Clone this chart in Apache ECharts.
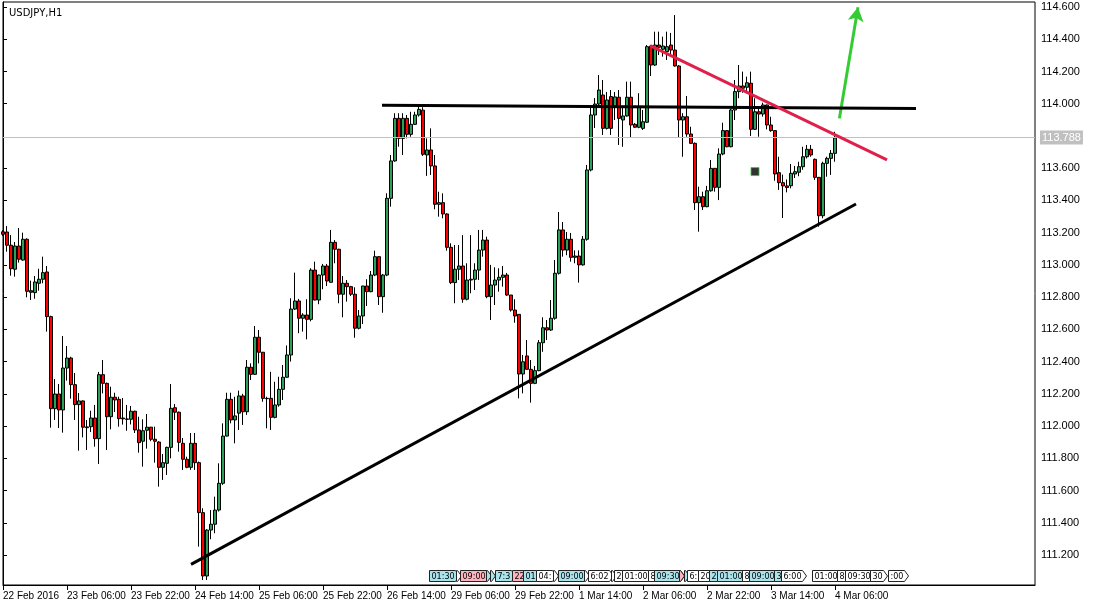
<!DOCTYPE html>
<html><head><meta charset="utf-8">
<script src="https://cdn.jsdelivr.net/npm/echarts@6/dist/echarts.min.js"></script>
<style>html,body{margin:0;padding:0;background:#fff}#c{width:1093px;height:608px}</style>
</head><body><div id="c"></div>
<script>
// ---------- DATA (USDJPY H1, 22 Feb 14:00 .. 4 Mar 06:00) ----------
const opens = [113.205,113.204,113.122,112.973,113.117,113.030,113.159,112.840,112.828,112.886,
112.911,112.956,112.679,112.108,112.199,112.100,112.360,112.422,112.257,112.133,
112.156,111.995,111.996,112.050,111.922,112.319,112.265,112.058,112.179,112.166,
112.050,112.044,112.042,112.092,111.976,111.906,111.974,111.993,111.918,111.901,
111.744,111.769,111.868,112.114,112.086,111.893,111.794,111.744,111.893,111.773,
111.463,111.070,111.355,111.391,111.479,111.645,111.938,112.166,112.038,112.080,
112.187,112.089,112.365,112.321,112.551,112.458,112.172,112.172,112.054,112.131,
112.228,112.303,112.441,112.726,112.776,112.669,112.689,112.662,112.968,112.782,
112.937,112.993,112.892,113.140,113.097,112.818,112.886,112.865,112.818,112.607,
112.683,112.869,112.834,112.937,113.051,112.803,112.937,113.413,113.645,113.909,
113.785,113.909,113.810,113.872,113.930,113.960,113.682,113.713,113.614,113.376,
113.386,113.316,113.109,112.890,112.973,112.993,112.787,112.906,112.911,112.968,
113.092,113.154,112.803,112.875,112.906,112.923,112.937,112.813,112.720,112.693,
112.323,112.435,112.352,112.265,112.344,112.517,112.610,112.596,112.669,112.948,
113.217,113.092,113.159,113.047,113.055,113.000,113.159,113.589,113.930,113.998,
114.054,113.847,114.044,113.980,114.040,113.899,113.924,114.040,113.872,113.854,
113.847,113.885,114.358,114.240,114.364,114.338,114.323,114.364,114.333,114.234,
113.899,113.919,113.812,113.754,113.386,113.423,113.361,113.460,113.599,113.481,
113.688,113.833,113.733,113.961,114.075,114.110,114.102,114.127,113.841,113.950,
113.936,113.992,113.868,113.833,113.572,113.510,113.490,113.491,113.564,113.575,
113.609,113.671,113.717,113.655,113.543,113.305,113.630,113.661,113.692];
const highs = [113.215,113.241,113.185,113.142,113.229,113.200,113.165,112.902,112.931,112.976,
113.051,112.993,112.685,112.292,112.261,112.559,112.497,112.430,112.329,112.205,
112.160,112.038,112.095,112.131,112.336,112.410,112.270,112.244,112.207,112.182,
112.174,112.131,112.125,112.095,112.058,112.042,112.075,111.995,111.996,111.906,
111.827,111.872,112.261,112.137,112.090,111.926,111.810,111.957,111.957,111.780,
111.490,111.360,111.479,111.562,111.769,112.017,112.207,112.207,112.182,112.220,
112.200,112.410,112.389,112.621,112.596,112.460,112.182,112.337,112.275,112.306,
112.379,112.500,112.793,112.952,112.789,112.700,112.787,112.979,113.020,112.940,
113.006,113.006,113.217,113.154,113.100,112.931,112.906,112.870,112.861,112.720,
112.870,112.911,112.962,113.088,113.055,112.944,113.444,113.682,113.941,113.941,
113.941,113.930,113.950,113.950,113.981,113.978,113.785,113.847,113.682,113.454,
113.444,113.320,113.134,113.123,113.123,113.185,113.010,113.185,113.010,113.217,
113.217,113.175,113.000,112.985,112.979,112.993,112.950,112.813,112.787,112.693,
112.441,112.534,112.410,112.373,112.534,112.675,112.658,112.782,113.030,113.328,
113.266,113.204,113.198,113.090,113.090,113.179,113.620,113.980,114.035,114.178,
114.147,114.073,114.085,114.073,114.085,113.981,114.137,114.137,113.880,114.065,
113.961,114.364,114.364,114.447,114.447,114.416,114.447,114.439,114.550,114.240,
113.941,114.048,113.857,113.760,113.485,113.454,113.490,113.651,113.600,113.723,
113.882,113.835,113.967,114.147,114.240,114.199,114.168,114.199,114.034,113.981,
114.006,113.995,113.919,113.835,113.671,113.560,113.530,113.626,113.614,113.640,
113.733,113.744,113.744,113.660,113.545,113.640,113.671,113.713,113.826];
const lows = [113.180,113.082,112.933,112.927,113.014,113.026,112.799,112.782,112.790,112.840,
112.886,112.586,111.990,112.038,111.988,111.959,112.282,112.170,112.038,111.847,
111.930,111.852,111.963,111.872,111.765,112.203,111.852,111.980,112.087,111.996,
112.009,111.971,112.010,111.957,111.835,111.748,111.860,111.906,111.773,111.624,
111.666,111.697,111.800,112.038,111.841,111.728,111.738,111.728,111.728,111.252,
111.045,111.045,111.298,111.335,111.470,111.635,111.936,112.017,111.893,111.976,
112.007,112.069,112.286,112.317,112.389,112.151,111.986,111.976,112.048,112.120,
112.162,112.300,112.400,112.720,112.576,112.586,112.538,112.650,112.780,112.756,
112.849,112.869,112.890,113.010,112.762,112.675,112.772,112.807,112.548,112.600,
112.633,112.745,112.830,112.930,112.751,112.703,112.930,113.361,113.640,113.733,
113.682,113.785,113.795,113.868,113.920,113.676,113.552,113.558,113.345,113.299,
113.289,113.088,112.881,112.762,112.906,112.765,112.780,112.824,112.844,112.906,
113.051,112.793,112.658,112.751,112.834,112.865,112.807,112.710,112.641,112.172,
112.203,112.350,112.145,112.260,112.340,112.461,112.534,112.590,112.660,112.940,
113.051,113.060,113.020,113.010,112.890,112.995,113.150,113.580,113.849,113.990,
113.806,113.840,113.806,113.899,113.744,113.733,113.920,113.792,113.850,113.848,
113.837,113.880,114.172,114.234,114.302,114.292,114.271,114.292,114.230,113.792,
113.671,113.795,113.750,113.341,113.206,113.341,113.358,113.454,113.454,113.402,
113.680,113.730,113.730,113.899,114.034,114.068,114.065,113.800,113.837,113.795,
113.920,113.841,113.826,113.522,113.465,113.291,113.450,113.475,113.539,113.550,
113.590,113.660,113.671,113.527,113.237,113.289,113.547,113.558,113.640];
const closes = [113.190,113.122,112.976,113.117,113.035,113.159,112.836,112.830,112.894,112.911,
112.952,112.679,112.108,112.199,112.100,112.360,112.422,112.257,112.133,112.156,
111.993,111.990,112.050,111.922,112.319,112.265,112.058,112.179,112.162,112.046,
112.045,112.042,112.092,111.976,111.897,111.971,111.993,111.918,111.906,111.744,
111.773,111.868,112.110,112.086,111.899,111.794,111.744,111.893,111.773,111.463,
111.070,111.355,111.391,111.479,111.645,111.938,112.166,112.038,112.063,112.187,
112.089,112.365,112.321,112.551,112.458,112.172,112.170,112.054,112.131,112.228,
112.303,112.441,112.726,112.776,112.669,112.689,112.662,112.968,112.782,112.937,
112.993,112.900,113.140,113.097,112.818,112.886,112.865,112.818,112.607,112.683,
112.869,112.834,112.937,113.051,112.803,112.937,113.413,113.645,113.909,113.785,
113.909,113.810,113.872,113.930,113.965,113.686,113.713,113.614,113.376,113.386,
113.316,113.109,112.890,112.973,112.993,112.787,112.906,112.911,112.968,113.092,
113.154,112.803,112.875,112.906,112.923,112.937,112.813,112.720,112.683,112.323,
112.399,112.352,112.265,112.344,112.517,112.610,112.596,112.669,112.948,113.217,
113.092,113.159,113.047,113.055,113.000,113.159,113.589,113.930,113.998,114.085,
113.847,114.023,113.847,114.042,113.909,113.924,114.040,113.868,113.854,113.981,
113.888,114.354,114.240,114.364,114.350,114.358,114.354,114.333,114.234,113.899,
113.919,113.812,113.754,113.386,113.423,113.361,113.460,113.599,113.481,113.688,
113.833,113.733,113.961,114.075,114.110,114.096,114.130,113.841,113.950,113.936,
113.992,113.868,113.833,113.564,113.510,113.490,113.480,113.568,113.578,113.609,
113.671,113.717,113.682,113.543,113.305,113.630,113.661,113.692,113.788];

// x-axis tick labels, one every 16 hourly bars
const tickLabels = ['22 Feb 2016','23 Feb 06:00','23 Feb 22:00','24 Feb 14:00','25 Feb 06:00',
  '25 Feb 22:00','26 Feb 14:00','29 Feb 06:00','29 Feb 22:00','1 Mar 14:00','2 Mar 06:00',
  '2 Mar 22:00','3 Mar 14:00','4 Mar 06:00'];
const yTickValues = [111.2,111.4,111.6,111.8,112.0,112.2,112.4,112.6,112.8,113.0,113.2,113.4,113.6,114.0,114.2,114.4,114.6];
const lastPrice = 113.788;

// drawn objects, in [bar index, price]
const resistLine = [[94.75, 113.990], [228.25, 113.970]];
const supportLine = [[47.0, 111.142], [213.25, 113.378]];
const redLine = [[161.8, 114.360], [221.0, 113.652]];
const greenArrow = [[209.1, 113.909], [213.75, 114.598]];
const marker = [[188.0, 113.579]];

// calendar event flags at the bottom: [bar index, visible text, colour key]
const eventBars = [106.5,113.25,114.25,120.75,121.75,123,127.25,130,133.25,137.5,138.75,145.25,146.25,152,152.75,154.75,161.25,162.75,169,170.25,171,173.75,176.5,178.5,184.75,186.5,192.75,194.5,202.25,208.5,210.5,216.75,221.25];
const eventLabels = ['01:30','','09:00','','','7:3','22','01','04:','','09:00','','6:02','','2','01:00','8','09:30','','','6:','20','2','01:00','8','09:00','3','6:00','01:00','8:','09:30','30',':00'];
const eventColors = ['c','w','p','c','c','c','p','c','w','w','c','w','w','w','w','w','w','c','p','c','w','w','c','c','w','c','c','w','w','w','w','w','w'];

// ---------- CHART ----------
const nSlots = 259;
const categories = Array.from({length: nSlots}, (_, i) => String(i));
const nBars = opens.length;
const candles = opens.map((o, i) => [o, closes[i], lows[i], highs[i]]);
const showIdx = (idx) => idx % 16 === 0 && idx < nBars;

const mctx = document.createElement('canvas').getContext('2d');
mctx.font = '8px "DejaVu Sans"';
const tw = (s) => mctx.measureText(s).width;
const fills = {c: '#A9E4EC', p: '#FFB3BE', w: '#FFFFFF'};

const chart = echarts.init(document.getElementById('c'), null, {renderer: 'canvas'});
chart.setOption({
  animation: false,
  backgroundColor: '#fff',
  title: {text: 'USDJPY,H1', left: 4, top: 3,
    textStyle: {fontSize: 10, fontWeight: 'normal', fontFamily: 'DejaVu Sans', color: '#000'}},
  grid: {left: 2, top: 2, right: 58, bottom: 23, show: true, borderColor: '#000', borderWidth: 1, backgroundColor: '#fff'},
  xAxis: [{
    type: 'category', data: categories, boundaryGap: false,
    axisLine: {lineStyle: {color: '#000', width: 1}},
    axisTick: {show: true, interval: showIdx, length: 5, lineStyle: {color: '#000'}},
    axisLabel: {interval: showIdx, align: 'left', margin: 6, color: '#000', fontSize: 10,
      fontFamily: 'Liberation Sans', formatter: (v, idx) => tickLabels[idx / 16] || ''},
    splitLine: {show: false}
  }, {
    type: 'value', min: 0, max: nSlots - 1, show: false, splitLine: {show: false}
  }],
  yAxis: {
    type: 'value', position: 'right', min: 111.014, max: 114.631, scale: true,
    axisLine: {show: true, lineStyle: {color: '#000', width: 1}},
    axisTick: {show: true, length: 4, customValues: yTickValues, lineStyle: {color: '#000'}},
    axisLabel: {customValues: yTickValues, margin: 6, color: '#000', fontSize: 11,
      fontFamily: 'Liberation Sans', formatter: (v) => v.toFixed(3)},
    splitLine: {show: false}
  },
  series: [{
    type: 'candlestick', xAxisIndex: 0, yAxisIndex: 0, data: candles, barWidth: 3, clip: true,
    itemStyle: {color: '#2E9E5B', color0: '#FF0000', borderColor: '#000', borderColor0: '#000',
      borderColorDoji: '#000', borderWidth: 1},
    markLine: {silent: true, symbol: ['none', 'none'], animation: false,
      lineStyle: {color: '#C0C0C0', width: 1, type: 'solid'},
      label: {show: true, position: 'end', distance: 5, formatter: lastPrice.toFixed(3),
        backgroundColor: '#C0C0C0', color: '#fff', padding: [2, 2, 1, 2], fontSize: 11, fontFamily: 'Liberation Sans'},
      data: [{yAxis: lastPrice}]}
  }, {
    type: 'line', xAxisIndex: 1, data: resistLine, showSymbol: false, silent: true,
    lineStyle: {color: '#000', width: 3}, z: 5
  }, {
    type: 'line', xAxisIndex: 1, data: supportLine, showSymbol: false, silent: true,
    lineStyle: {color: '#000', width: 3}, z: 5
  }, {
    type: 'line', xAxisIndex: 1, data: redLine, showSymbol: false, silent: true,
    lineStyle: {color: '#E0204A', width: 3}, z: 5
  }, {
    type: 'line', xAxisIndex: 1, data: greenArrow, showSymbol: false, silent: true,
    lineStyle: {width: 0, opacity: 0}, z: 5,
    markLine: {silent: true, symbol: ['none', 'arrow'], symbolSize: [12, 14], animation: false,
      lineStyle: {color: '#33CC33', width: 3, type: 'solid'}, label: {show: false},
      data: [[{coord: greenArrow[0]}, {coord: greenArrow[1]}]]}
  }, {
    type: 'scatter', xAxisIndex: 1, data: marker, symbol: 'rect', symbolSize: 8, silent: true,
    itemStyle: {color: '#000', borderColor: '#33CC33', borderWidth: 1}, z: 6
  }, {
    type: 'custom', xAxisIndex: 1, silent: true, clip: false, z: 7,
    data: eventBars.map((b, i) => [b, i]),
    renderItem: function (params, api) {
      const i = api.value(1);
      const x = Math.round(api.coord([api.value(0), 112])[0]) + 0.5;
      const cs = params.coordSys;
      const yb = Math.round(cs.y + cs.height) - 3.5;
      const yt = yb - 11;
      const txt = eventLabels[i];
      const w = txt ? Math.round(tw(txt)) + 3 : 1;
      return {type: 'group', children: [
        {type: 'polygon', shape: {points: [[x, yt], [x + w, yt], [x + w + 4, (yt + yb) / 2], [x + w, yb], [x, yb]]},
          style: {fill: fills[eventColors[i]], stroke: '#222', lineWidth: 1}},
        {type: 'text', style: {text: txt, x: x + 2, y: (yt + yb) / 2 + 0.5, verticalAlign: 'middle',
          fill: '#000', font: '8px "DejaVu Sans"'}}
      ]};
    }
  }]
});
</script></body></html>
